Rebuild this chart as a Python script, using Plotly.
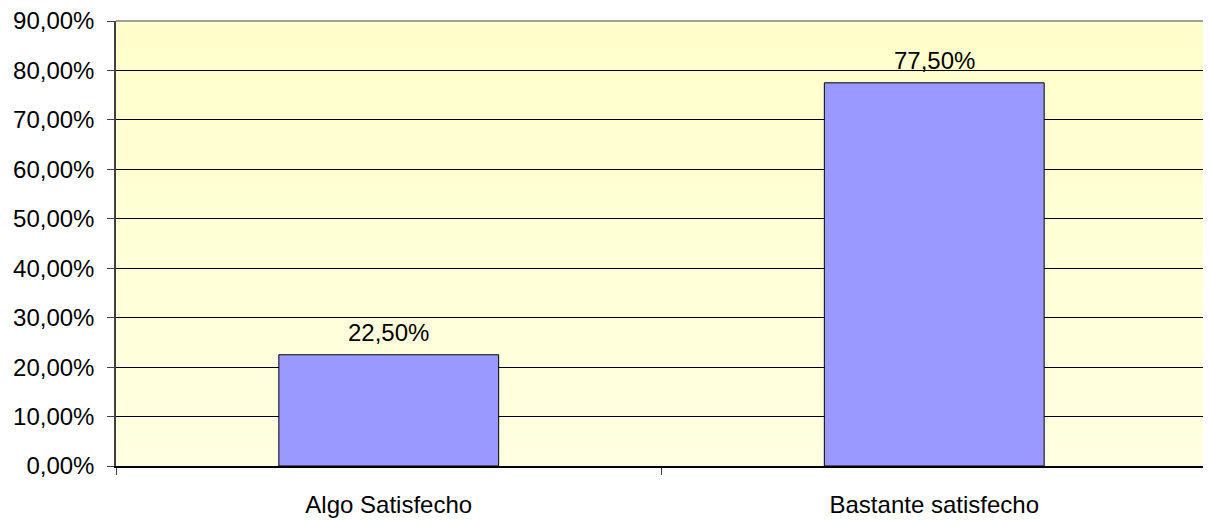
import plotly.graph_objects as go

# data
categories = ["Algo Satisfecho", "Bastante satisfecho"]
values = [0.225, 0.775]
labels = ["22,50%", "77,50%"]

fig = go.Figure()

fig.add_trace(go.Bar(
    x=categories,
    y=values,
    width=0.403,
    marker=dict(color="#9999FF", line=dict(color="black", width=1)),
))

# value labels just above each bar
for cat, val, lab in zip(categories, values, labels):
    fig.add_annotation(x=cat, y=val, text=lab, showarrow=False,
                       yanchor="bottom", yshift=7, font=dict(size=24, color="black"))

# soft yellow gradient behind the plot (top darker, bottom paler)
n = 30
shapes = []
for i in range(n):
    t = i / (n - 1)
    b = int(204 + (226 - 204) * t)
    shapes.append(dict(
        type="rect", xref="paper", yref="paper",
        x0=0, x1=1, y0=1 - (i + 1) / n, y1=1 - i / n,
        fillcolor=f"rgb(255,255,{b})", line=dict(width=0), layer="below",
    ))
# grey frame on top and right
shapes.append(dict(type="line", xref="paper", yref="paper", x0=0, x1=1, y0=1, y1=1,
                   line=dict(color="#808080", width=1.5)))
shapes.append(dict(type="line", xref="paper", yref="paper", x0=1, x1=1, y0=0, y1=1,
                   line=dict(color="#808080", width=1.5)))

# the page adds an 8px body margin, so the figure is sized / offset for that
fig.update_layout(
    width=1203, height=512,
    margin=dict(l=108, r=4, t=13, b=54),
    paper_bgcolor="white",
    plot_bgcolor="#FFFFD6",
    separators=",.",
    showlegend=False,
    font=dict(family="Liberation Sans, Arial, sans-serif", size=24, color="black"),
    shapes=shapes,
)

fig.update_yaxes(
    range=[0, 0.9], dtick=0.1, tickformat=".2%",
    showgrid=True, gridcolor="black", gridwidth=1,
    showline=True, linecolor="#404040", linewidth=1.5,
    ticks="outside", ticklen=7, tickcolor="#404040",
    ticklabelstandoff=8, ticklabeloverflow="allow",
    zeroline=False, fixedrange=True, automargin=False,
)
fig.update_xaxes(
    showgrid=False,
    showline=True, linecolor="black", linewidth=1.5,
    ticks="outside", ticklen=7, tickcolor="#404040", tickson="boundaries",
    ticklabelstandoff=16, ticklabeloverflow="allow",
    fixedrange=True, automargin=False,
)

fig.write_html("out.html")
